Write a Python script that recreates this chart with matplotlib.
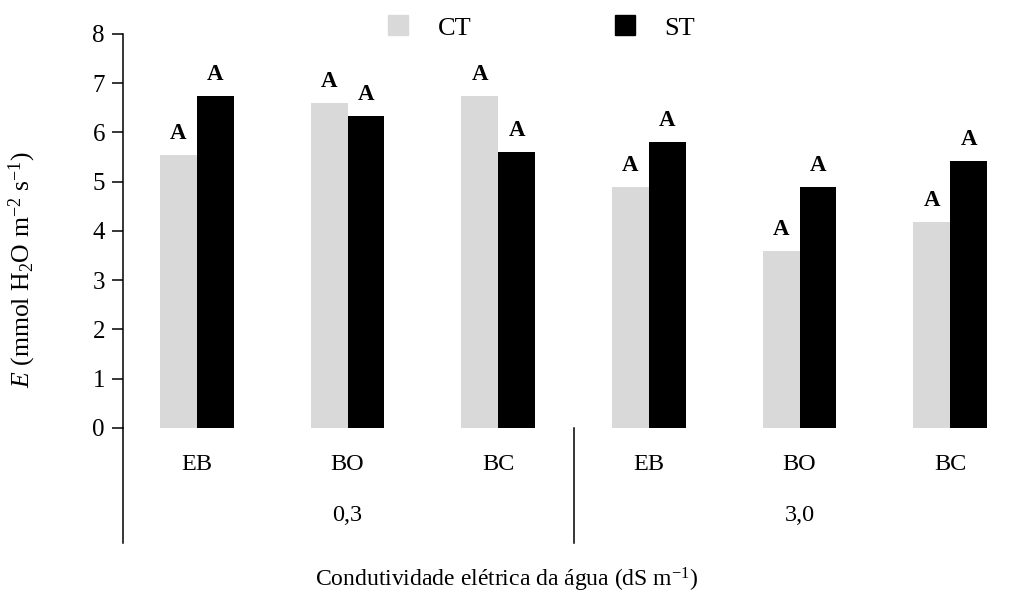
import matplotlib
matplotlib.use('Agg')
import matplotlib.pyplot as plt
import numpy as np
from matplotlib.lines import Line2D

plt.rcParams['font.family'] = ['Liberation Serif', 'DejaVu Serif']
plt.rcParams['mathtext.fontset'] = 'custom'
plt.rcParams['mathtext.rm'] = 'Liberation Serif'
plt.rcParams['mathtext.it'] = 'Liberation Serif:italic'

# transpiração (E) por tratamento e condutividade da água
tratamentos = ['EB', 'BO', 'BC', 'EB', 'BO', 'BC']
condutividade = ['0,3', '3,0']
ct = [5.54, 6.60, 6.75, 4.90, 3.59, 4.19]
st = [6.74, 6.34, 5.60, 5.80, 4.90, 5.43]
letras_ct = ['A', 'A', 'A', 'A', 'A', 'A']
letras_st = ['A', 'A', 'A', 'A', 'A', 'A']

cor_ct = '#d9d9d9'
cor_st = '#000000'

x = np.arange(len(tratamentos))
width = 0.245

fig = plt.figure(figsize=(10.15, 5.96), dpi=100)
ax = fig.add_axes([0.1212, 0.2819, 0.864, 0.6611])

b1 = ax.bar(x - width / 2, ct, width, color=cor_ct)
b2 = ax.bar(x + width / 2, st, width, color=cor_st)

# letras de significância acima das barras
for rects, letras in ((b1, letras_ct), (b2, letras_st)):
    for r, l in zip(rects, letras):
        ax.text(r.get_x() + r.get_width() / 2, r.get_height() + 0.22, l,
                ha='center', va='bottom', fontsize=16.5, fontweight='bold')

ax.set_xlim(-0.49, 5.33)
ax.set_ylim(0, 8)
ax.set_yticks(range(0, 9))
ax.tick_params(axis='y', direction='out', length=8, width=1.1, pad=5, labelsize=18)
ax.set_xticks(x)
ax.set_xticklabels(tratamentos)
ax.tick_params(axis='x', length=0, pad=19, labelsize=17.5)

for s in ['top', 'right', 'bottom']:
    ax.spines[s].set_visible(False)
ax.spines['left'].set_linewidth(1.1)

# linhas de separação dos níveis de condutividade
ax.plot([-0.49, -0.49], [0, -2.33], color='black', lw=1.1, clip_on=False)
ax.plot([2.5, 2.5], [0, -2.33], color='black', lw=1.1, clip_on=False)

for i, c in enumerate(condutividade):
    ax.text(1 + 3 * i, -1.77, c, ha='center', va='center', fontsize=17.5)

fig.text(0.4995, 0.027, 'Condutividade elétrica da água (dS m$^{\\mathrm{-1}}$)',
         ha='center', va='center', fontsize=17)
fig.text(0.022, 0.548, '$\\mathit{E}$ (mmol H$_2$O m$^{\\mathrm{-2}}$ s$^{\\mathrm{-1}}$)',
         ha='center', va='center', rotation=90, fontsize=18.5)

handles = [Line2D([], [], marker='s', ls='none', ms=14.5, color=cor_ct),
           Line2D([], [], marker='s', ls='none', ms=14.5, color=cor_st)]
fig.legend(handles, ['CT', 'ST'], ncol=2, frameon=False, fontsize=19,
           loc='upper left', bbox_to_anchor=(0.369, 0.995),
           handlelength=0.8, handletextpad=1.1, columnspacing=5.4, borderpad=0)

plt.savefig('out.png', dpi=100)
